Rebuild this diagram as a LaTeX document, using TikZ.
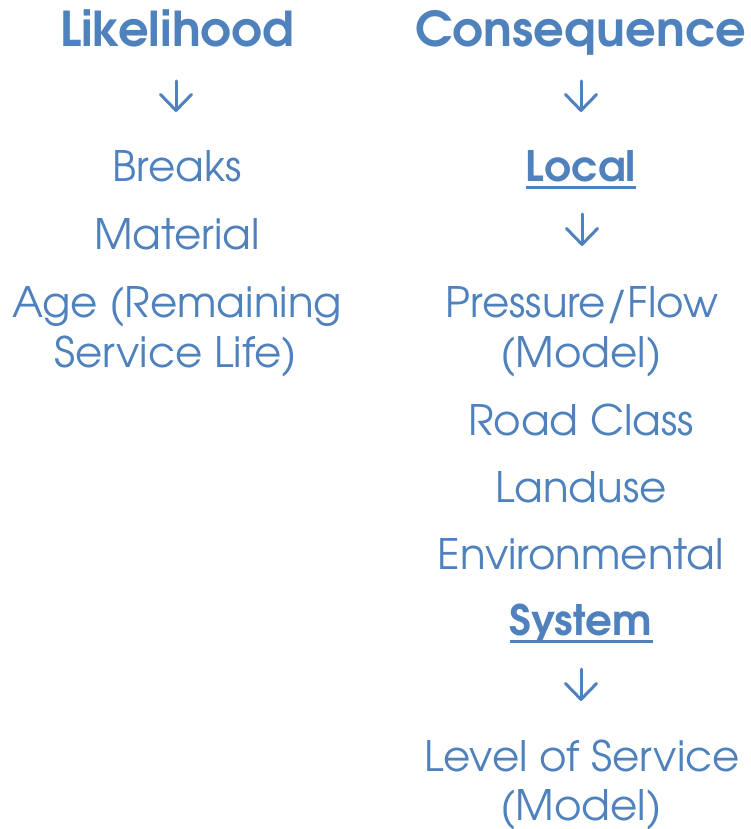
\documentclass[tikz,border=0pt]{standalone}
\usepackage{fontspec}
\setmainfont{TeX Gyre Adventor}
\usetikzlibrary{arrows.meta}
\definecolor{ink}{RGB}{79,129,189}
\begin{document}
\begin{tikzpicture}[x=1pt,y=-1pt,
  every node/.style={inner sep=0pt,anchor=base,text=ink},
  head/.style={font=\fontsize{48}{48}\selectfont\bfseries},
  sub/.style={font=\fontsize{42}{42}\selectfont\bfseries},
  item/.style={font=\fontsize{42}{42}\selectfont},
  arr/.style={draw=ink,line width=3pt,line cap=round,line join=round,
    -{Straight Barb[length=16pt,width=31pt,line cap=round,line join=round]}},
  ul/.style={draw=ink,line width=3.6pt}]
\useasboundingbox (0,0) rectangle (750,829);

% Likelihood column
\node[head] (like) at (177,47) {Likelihood};
\coordinate (l1a) at (176,81);
\coordinate (l1b) at (176,112);
\draw[arr] (l1a) -- (l1b);
\node[item] (breaks) at (177,182) {Breaks};
\node[item] (mat) at (177,249) {Material};
\node[item] (age1) at (177,317) {Age (Remaining};
\node[item] (age2) at (176,367) {Service Life)};

% Consequence column
\node[head] (cons) at (581,47) {Consequence};
\coordinate (c1a) at (581,81);
\coordinate (c1b) at (581,112);
\draw[arr] (c1a) -- (c1b);
\node[sub] (local) at (581,182) {Local};
\draw[ul] ([yshift=-5.5pt]local.base west) -- ([yshift=-5.5pt]local.base east);
\coordinate (c2a) at (582,214);
\coordinate (c2b) at (582,246);
\draw[arr] (c2a) -- (c2b);
\node[item] (pf1) at (582,317) {Pressure/Flow};
\node[item] (pf2) at (581,367) {(Model)};
\node[item] (road) at (581,435) {Road Class};
\node[item] (land) at (581,502) {Landuse};
\node[item] (env) at (581,569) {Environmental};
\node[sub] (sys) at (581,635) {System};
\draw[ul] ([yshift=-6.5pt]sys.base west) -- ([yshift=-6.5pt]sys.base east);
\coordinate (c3a) at (581,669);
\coordinate (c3b) at (581,701);
\draw[arr] (c3a) -- (c3b);
\node[item] (los1) at (582,771) {Level of Service};
\node[item] (los2) at (581,820) {(Model)};
\end{tikzpicture}
\end{document}
